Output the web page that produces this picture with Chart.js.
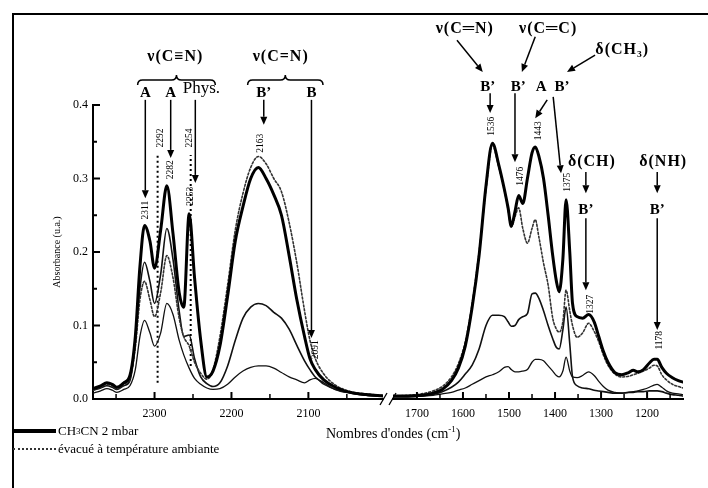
<!DOCTYPE html>
<html>
<head>
<meta charset="utf-8">
<script src="https://cdn.jsdelivr.net/npm/chart.js@4.4.0/dist/chart.umd.min.js"></script>
<style>
  body { margin: 0; background: #fff; width: 708px; height: 488px; overflow: hidden; position: relative;
         font-family: "Liberation Serif", "Times New Roman", serif; color: #000; }
  #frame { position: absolute; left: 12px; top: 13px; width: 720px; height: 500px;
           border-left: 2px solid #000; border-top: 2px solid #000; }
  canvas { position: absolute; left: 0; top: 0; }
  .xtitle { position: absolute; left: 326px; top: 424px; font-size: 14px; white-space: nowrap; }
  .xtitle sup { font-size: 9px; }
  .leg { position: absolute; left: 13px; font-size: 13px; white-space: nowrap; display: flex; align-items: center; }
  .leg span.ln { display: inline-block; width: 43px; margin-right: 2px; }
  .leg sub { font-size: 9px; }
</style>
</head>
<body>
<div id="frame"></div>
<canvas id="leftChart" width="708" height="488"></canvas>
<canvas id="rightChart" width="708" height="488"></canvas>
<div class="xtitle">Nombres d'ondes (cm<sup>-1</sup>)</div>
<div class="leg" style="top:423px"><span class="ln" style="border-top:4px solid #000"></span>CH<sub>3</sub>CN 2 mbar</div>
<div class="leg" style="top:441px"><span class="ln" style="border-top:2px dotted #333"></span>évacué à température ambiante</div>
<script>
// ---- data: left window (2380 -> 2003 cm-1) ----
const wnLeft = [2380, 2370, 2362, 2355, 2349, 2340, 2332, 2325, 2319, 2313, 2306, 2300, 2292, 2284, 2276, 2268, 2262, 2255, 2248, 2240, 2232, 2224, 2215, 2205, 2195, 2185, 2175, 2165, 2155, 2145, 2135, 2125, 2115, 2105, 2098, 2091, 2080, 2065, 2045, 2025, 2003];
const thickLeft = [.014, .018, .022, .020, .016, .022, .032, .085, .180, .236, .215, .178, .230, .290, .225, .145, .125, .252, .165, .080, .030, .038, .072, .140, .215, .262, .300, .315, .300, .278, .250, .195, .135, .085, .055, .040, .026, .016, .009, .006, .004];
const dottedLeft = [.012, .016, .020, .018, .014, .020, .028, .070, .135, .160, .135, .112, .145, .195, .165, .110, .085, .072, .050, .035, .027, .040, .085, .155, .230, .280, .315, .330, .320, .300, .282, .240, .185, .120, .080, .055, .034, .019, .010, .007, .005];
const middleLeft = [.012, .015, .018, .016, .013, .018, .025, .075, .150, .186, .160, .130, .170, .232, .190, .120, .085, .087, .055, .030, .021, .017, .022, .045, .080, .110, .125, .130, .127, .118, .110, .095, .073, .052, .040, .030, .022, .013, .008, .005, .004];
const lowestLeft = [.008, .011, .014, .012, .009, .013, .018, .040, .085, .107, .090, .072, .090, .130, .115, .080, .060, .042, .028, .020, .015, .013, .014, .020, .030, .038, .043, .045, .045, .042, .036, .030, .026, .022, .026, .028, .020, .013, .008, .005, .004];

// ---- data: right window (1752 -> 1122 cm-1) ----
const wnRight = [1752, 1720, 1690, 1665, 1645, 1625, 1610, 1595, 1580, 1565, 1550, 1536, 1522, 1510, 1502, 1495, 1487, 1479, 1470, 1460, 1450, 1443, 1435, 1425, 1415, 1405, 1397, 1391, 1383, 1376, 1368, 1362, 1352, 1340, 1327, 1315, 1305, 1295, 1285, 1270, 1255, 1240, 1230, 1220, 1208, 1195, 1185, 1178, 1168, 1158, 1145, 1132, 1122];
const thickRight = [.004, .004, .005, .008, .013, .025, .042, .072, .125, .195, .290, .348, .318, .285, .260, .235, .255, .277, .266, .300, .335, .343, .330, .300, .250, .195, .160, .146, .190, .271, .200, .130, .112, .110, .115, .105, .085, .065, .050, .036, .033, .036, .039, .037, .040, .049, .054, .054, .043, .035, .029, .025, .023];
const dottedRight = [.004, .005, .007, .011, .017, .030, .048, .078, .130, .200, .285, .345, .315, .284, .258, .234, .248, .260, .232, .212, .232, .244, .220, .185, .155, .110, .095, .091, .105, .148, .120, .100, .084, .090, .103, .092, .078, .060, .046, .034, .030, .031, .033, .035, .038, .042, .046, .045, .033, .026, .020, .017, .015];
const middleRight = [.003, .003, .004, .006, .010, .016, .023, .034, .046, .068, .100, .114, .114, .112, .105, .099, .100, .108, .112, .116, .143, .144, .137, .120, .100, .082, .070, .068, .094, .125, .075, .030, .018, .015, .014, .012, .011, .010, .009, .008, .008, .009, .009, .010, .010, .011, .011, .011, .010, .008, .006, .005, .004];
const lowestRight = [.003, .003, .004, .005, .007, .009, .012, .015, .020, .025, .030, .033, .037, .043, .044, .040, .037, .037, .038, .040, .050, .054, .054, .052, .045, .038, .032, .030, .038, .057, .038, .030, .029, .032, .037, .032, .024, .017, .012, .009, .008, .009, .010, .011, .013, .016, .019, .020, .016, .011, .008, .007, .006];

// ---- axes ----
const ticksLeft = [2350, 2300, 2250, 2200, 2150, 2100, 2050];
const ticksRight = [1700, 1650, 1600, 1550, 1500, 1450, 1400, 1350, 1300, 1250, 1200, 1150];
const ticksY = [0, 0.05, 0.1, 0.15, 0.2, 0.25, 0.3, 0.35, 0.4];

// dotted reference lines (physisorbed bands)
const physLines = [2296, 2253];
const physTop = [0.332, 0.332];
const physBottom = [0.022, 0.045];

// annotations: [text, wavenumber, absorbance]
const leftTitles = [['ν(C≡N)', 2273, 0.465], ['ν(C=N)', 2136, 0.465]];
const leftLetters = [['A', 2312, 0.416], ['A', 2279, 0.416], ['B\u2019', 2158, 0.416], ['B', 2096, 0.416]];
const leftPhys = [['Phys.', 2239, 0.422]];
const leftNumbers = [['2311', 2312, 0.257], ['2282', 2279, 0.312], ['2292', 2292, 0.355], ['2254', 2255, 0.355], ['2253', 2253, 0.276], ['2163', 2162, 0.348], ['2091', 2091, 0.067]];
// arrows: [wn from, abs from, wn to, abs to]
const leftArrows = [[2312, .407, 2312, .273], [2279, .407, 2279, .328], [2247, .407, 2247, .294], [2158, .407, 2158, .373], [2096, .407, 2096, .083]];
// braces: [wn start, wn end, abs]
const leftBraces = [[2322, 2221, 0.434], [2179, 2081, 0.434]];

const rightTitles = [['ν(C═N)', 1596, 0.503], ['ν(C═C)', 1415, 0.503], ['δ(CH₃)', 1254, 0.475], ['δ(CH)', 1320, 0.322], ['δ(NH)', 1165, 0.322]];
const rightLetters = [['B\u2019', 1546, 0.424], ['B\u2019', 1480, 0.424], ['A', 1430, 0.424], ['B\u2019', 1385, 0.424], ['B\u2019', 1333, 0.257], ['B\u2019', 1178, 0.257]];
const rightNumbers = [['1536', 1537, 0.371], ['1476', 1476, 0.303], ['1443', 1437, 0.365], ['1375', 1374, 0.295], ['1327', 1324, 0.129], ['1178', 1172, 0.08]];
const rightArrows = [[1613, .488, 1557, .445], [1443, .493, 1472, .445], [1313, .468, 1374, .445],
  [1541, .416, 1541, .389], [1487, .416, 1487, .322], [1417, .407, 1443, .382], [1404, .411, 1387, .307],
  [1333, .309, 1333, .280], [1178, .309, 1178, .280], [1333, .246, 1333, .148], [1178, .246, 1178, .094]];

const SERIF = '"Liberation Serif", "Times New Roman", serif';

function curve(wn, vals, width, dash, color) {
  return {
    data: wn.map((x, i) => ({ x: x, y: vals[i] })),
    borderColor: color, borderWidth: width, borderDash: dash,
    pointRadius: 0, cubicInterpolationMode: 'monotone', fill: false,
    borderJoinStyle: 'round', borderCapStyle: 'round'
  };
}

function arrow(ctx, x1, y1, x2, y2) {
  const a = Math.atan2(y2 - y1, x2 - x1), L = 8, W = 3.5;
  const bx = x2 - L * Math.cos(a), by = y2 - L * Math.sin(a);
  ctx.lineWidth = 1.5;
  ctx.beginPath(); ctx.moveTo(x1, y1); ctx.lineTo(bx, by); ctx.stroke();
  ctx.beginPath();
  ctx.moveTo(x2, y2);
  ctx.lineTo(bx + W * Math.sin(a), by - W * Math.cos(a));
  ctx.lineTo(bx - W * Math.sin(a), by + W * Math.cos(a));
  ctx.closePath(); ctx.fill();
}

function brace(ctx, x1, x2, y) {
  const mid = (x1 + x2) / 2, r = 5;
  ctx.lineWidth = 1.5;
  ctx.beginPath();
  ctx.moveTo(x1, y + r);
  ctx.quadraticCurveTo(x1, y, x1 + r, y);
  ctx.lineTo(mid - r, y);
  ctx.quadraticCurveTo(mid, y, mid, y - r);
  ctx.quadraticCurveTo(mid, y, mid + r, y);
  ctx.lineTo(x2 - r, y);
  ctx.quadraticCurveTo(x2, y, x2, y + r);
  ctx.stroke();
}

// ticks drawn inward, plus all the labels and arrows
const decorations = {
  id: 'decorations',
  afterDraw(chart, args, o) {
    const { ctx, chartArea: ca, scales: { x, y } } = chart;
    const X = v => x.getPixelForValue(v), Y = v => y.getPixelForValue(v);
    ctx.save();
    ctx.strokeStyle = '#000'; ctx.fillStyle = '#000';
    x.ticks.forEach(t => {
      const major = t.value % 100 === 0;
      ctx.lineWidth = major ? 2 : 1.5;
      ctx.beginPath(); ctx.moveTo(X(t.value), ca.bottom); ctx.lineTo(X(t.value), ca.bottom - (major ? 7 : 5)); ctx.stroke();
    });
    if (y.options.display) {
      y.ticks.forEach(t => {
        const major = Math.round(t.value * 100) % 10 === 0;
        ctx.lineWidth = 2;
        ctx.beginPath(); ctx.moveTo(ca.left, Y(t.value)); ctx.lineTo(ca.left + (major ? 7 : 4), Y(t.value)); ctx.stroke();
      });
    }
    ctx.textAlign = 'center'; ctx.textBaseline = 'middle';
    ctx.font = 'bold 16px ' + SERIF;
    ctx.letterSpacing = '1px';
    (o.titles || []).forEach(([s, w, v]) => ctx.fillText(s, X(w), Y(v)));
    ctx.letterSpacing = '0px';
    ctx.font = 'bold 15px ' + SERIF;
    (o.letters || []).forEach(([s, w, v]) => ctx.fillText(s, X(w), Y(v)));
    ctx.font = '17px ' + SERIF;
    (o.phys || []).forEach(([s, w, v]) => ctx.fillText(s, X(w), Y(v)));
    ctx.font = '9.5px ' + SERIF;
    (o.numbers || []).forEach(([s, w, v]) => {
      ctx.save(); ctx.translate(X(w), Y(v)); ctx.rotate(-Math.PI / 2); ctx.fillText(s, 0, 0); ctx.restore();
    });
    (o.arrows || []).forEach(([w1, v1, w2, v2]) => arrow(ctx, X(w1), Y(v1), X(w2), Y(v2)));
    (o.braces || []).forEach(([w1, w2, v]) => brace(ctx, X(w1), X(w2), Y(v)));
    if (o.breakMarks) {
      ctx.lineWidth = 1.3;
      [ca.left - 13, ca.left - 4].forEach(bx => {
        ctx.beginPath(); ctx.moveTo(bx, ca.bottom + 6); ctx.lineTo(bx + 7, ca.bottom - 6); ctx.stroke();
      });
    }
    ctx.restore();
  }
};

function spectrumChart(id, wn, series, extra, xr, xticks, showY, padding, notes) {
  const datasets = [
    curve(wn, series[0], 3, [], '#000'),
    curve(wn, series[1], 1.6, [2, 2], '#333'),
    curve(wn, series[2], 1.6, [], '#111'),
    curve(wn, series[3], 1.3, [], '#111')
  ].concat(extra);
  return new Chart(document.getElementById(id), {
    type: 'line',
    data: { datasets: datasets },
    plugins: [decorations],
    options: {
      responsive: false, animation: false,
      layout: { padding: padding },
      plugins: { legend: { display: false }, tooltip: { enabled: false }, decorations: notes },
      scales: {
        x: {
          type: 'linear', reverse: true, min: xr[0], max: xr[1],
          afterBuildTicks: s => { s.ticks = xticks.map(v => ({ value: v })); },
          afterFit: s => { s.height = 30; },
          grid: { display: false, drawTicks: false },
          border: { display: true, color: '#000', width: 2 },
          ticks: { padding: 8, color: '#000', autoSkip: false, maxRotation: 0,
                   font: { family: SERIF, size: 12 },
                   callback: v => (v % 100 === 0 ? String(v) : '') }
        },
        y: {
          min: 0, max: 0.4, display: showY,
          afterBuildTicks: s => { s.ticks = ticksY.map(v => ({ value: v })); },
          afterFit: s => { if (showY) s.width = 46; },
          grid: { display: false, drawTicks: false },
          border: { display: true, color: '#000', width: 2 },
          ticks: { padding: 5, color: '#000', font: { family: SERIF, size: 12 },
                   callback: v => (Math.round(v * 100) % 10 === 0 ? v.toFixed(1) : '') },
          title: { display: true, text: 'Absorbance (u.a.)', color: '#000', font: { family: SERIF, size: 10 } }
        }
      }
    }
  });
}

const physSets = physLines.map((w, i) => ({
  data: [{ x: w, y: physBottom[i] }, { x: w, y: physTop[i] }],
  borderColor: '#000', borderWidth: 2, borderDash: [2, 3], pointRadius: 0, fill: false
}));

spectrumChart('leftChart', wnLeft, [thickLeft, dottedLeft, middleLeft, lowestLeft], physSets,
  [2003, 2380], ticksLeft, true, { left: 47, right: 325, top: 105, bottom: 59 },
  { titles: leftTitles, letters: leftLetters, phys: leftPhys, numbers: leftNumbers, arrows: leftArrows, braces: leftBraces });

spectrumChart('rightChart', wnRight, [thickRight, dottedRight, middleRight, lowestRight], [],
  [1122, 1752], ticksRight, false, { left: 393, right: 25, top: 105, bottom: 59 },
  { titles: rightTitles, letters: rightLetters, numbers: rightNumbers, arrows: rightArrows, breakMarks: true });
</script>
</body>
</html>
